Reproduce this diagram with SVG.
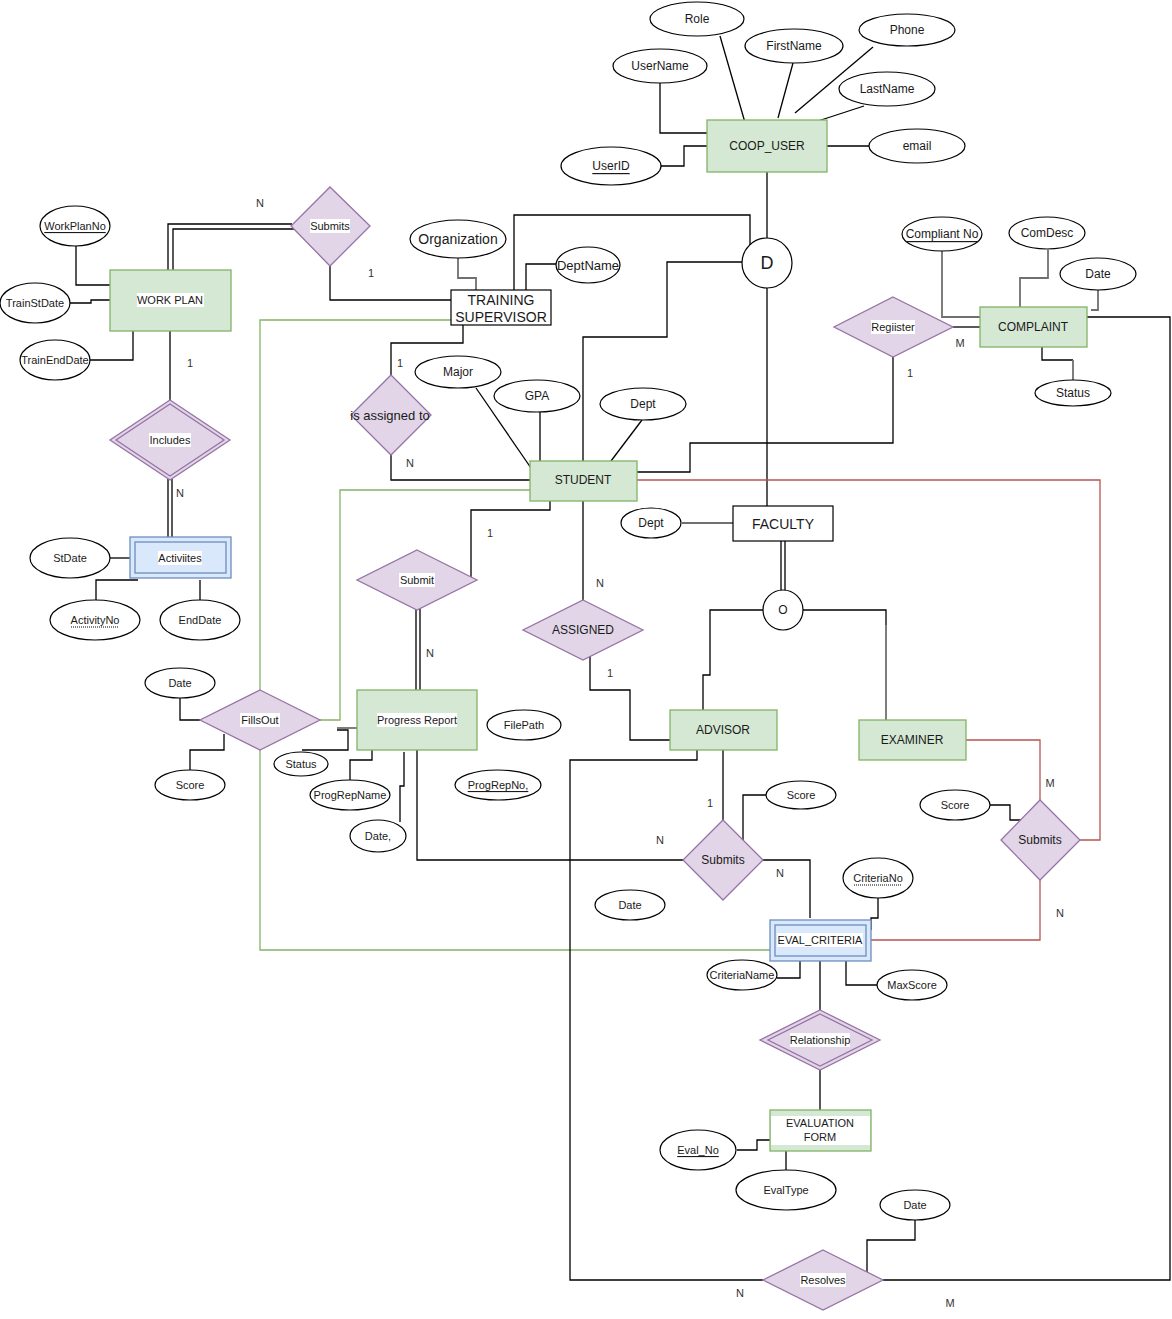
<svg xmlns="http://www.w3.org/2000/svg" width="1172" height="1319" viewBox="0 0 1172 1319">
<style>
text{font-family:"Liberation Sans",Arial,sans-serif;fill:#1a1a1a;text-anchor:middle;dominant-baseline:central}
.ent{fill:#d5e8d4;stroke:#82b366;stroke-width:1.3}
.weak{fill:#dae8fc;stroke:#6c8ebf;stroke-width:1.3}
.rel{fill:#e1d5e7;stroke:#9673a6;stroke-width:1.3}
.attr{fill:#fff;stroke:#000;stroke-width:1.2}
.box{fill:#fff;stroke:#000;stroke-width:1.2}
.bg{fill:#fff}
.c{fill:none;stroke:#000;stroke-width:1.3}
.g{fill:none;stroke:#707070;stroke-width:1.8}
.grn{fill:none;stroke:#82b366;stroke-width:1.3}
.red{fill:none;stroke:#b85450;stroke-width:1.3}
.lbl{font-size:11px;fill:#333}
.s11{font-size:11px}
.s12{font-size:12px}
.s13{font-size:13px}
.s14{font-size:14px}
.u{text-decoration:underline}
.dot{stroke:#000;stroke-width:1;stroke-dasharray:1 1}
</style>
<rect width="1172" height="1319" fill="#fff"/>

<g id="connectors">
  <!-- COOP_USER attributes -->
  <path class="c" d="M720 36 L746 126"/>
  <path class="c" d="M793 63 L778 118"/>
  <path class="c" d="M873 47 L795 113"/>
  <path class="c" d="M864 106 L818 121"/>
  <path class="c" d="M827 146 H870"/>
  <path class="c" d="M660 83 V133 H707"/>
  <path class="c" d="M660 166 H684 V146 H707"/>
  <path class="c" d="M767 172 V238"/>
  <!-- D connections -->
  <path class="c" d="M514 290 V215 H750 V245"/>
  <path class="c" d="M742 262 H667 V337 H583 V461"/>
  <path class="c" d="M767 288 V506"/>
  <path class="c" d="M763 506 V516"/>
  <!-- Training supervisor attributes -->
  <path class="g" d="M458 258 V278 H476 V290"/>
  <path class="c" d="M556 264 H526 V290"/>
  <!-- Submits (top) -->
  <path class="c" d="M168 270 V224 H292"/>
  <path class="c" d="M173 270 V229 H294"/>
  <path class="c" d="M330 266 V300 H451"/>
  <!-- Work plan attrs -->
  <path class="c" d="M76 246 V285 H110"/>
  <path class="c" d="M70 303 H91 V300 H110"/>
  <path class="c" d="M90 360 H133 V331"/>
  <path class="c" d="M170 331 V400"/>
  <path class="c" d="M168 479 V537 M172 479 V537"/>
  <!-- Activities attrs -->
  <path class="c" d="M110 558 H130"/>
  <path class="c" d="M96 600 V580 H138"/>
  <path class="c" d="M200 600 V580"/>
  <!-- is assigned to -->
  <path class="c" d="M463 325 V343 H391 V375"/>
  <path class="c" d="M391 455 V480 H530"/>
  <!-- Student attrs -->
  <path class="c" d="M476 388 L531 468"/>
  <path class="c" d="M540 412 V461"/>
  <path class="c" d="M642 420 L611 461"/>
  <!-- Student - Register -->
  <path class="c" d="M637 472 H690 V443 H893 V357"/>
  <path class="c" d="M953 327 H980"/>
  <!-- Complaint attrs -->
  <path class="g" d="M942 251 V317 H980"/>
  <path class="g" d="M1048 250 V278 H1020 V307"/>
  <path class="g" d="M1098 290 V310 H1091"/>
  <path class="c" d="M1042 347 V360 H1073"/>
  <path class="g" d="M1073 360 V380"/>
  <path class="c" d="M1087 317 H1170 V1280 H883"/>
  <!-- Student - Submit - Progress Report -->
  <path class="c" d="M550 501 V510 H471 V577"/>
  <path class="c" d="M416 609 V690 M420 609 V690"/>
  <path class="c" d="M583 501 V600"/>
  <path class="c" d="M590 656 V690 H630 V740 H670"/>
  <!-- Faculty -->
  <path class="g" d="M682 523 H733"/>
  <path class="c" d="M781 541 V591 M785 541 V591"/>
  <path class="c" d="M763 610 H710 V675 H703 V710"/>
  <path class="c" d="M803 610 H886 V625"/>
  <path class="g" d="M886 625 V720"/>
  <!-- Green connectors -->
  <path class="grn" d="M451 320 H260 V690"/>
  <path class="grn" d="M260 750 V950 H770"/>
  <path class="grn" d="M530 490 H340 V720 H320"/>
  <!-- Red connectors -->
  <path class="red" d="M637 480 H1100 V840 H1080"/>
  <path class="red" d="M966 740 H1040 V800"/>
  <path class="red" d="M1040 880 V940 H871"/>
  <!-- FillsOut attrs -->
  <path class="c" d="M180 698 V720 H200"/>
  <path class="c" d="M190 770 V750 H224 V734"/>
  <!-- Progress report attrs -->
  <path class="g" d="M337 728 H360"/>
  <path class="c" d="M337 730 H348 V750 H302"/>
  <path class="c" d="M350 780 V760 H372 V750"/>
  <path class="c" d="M400 822 V786 H404 V752"/>
  <path class="c" d="M417 750 V860 H684"/>
  <!-- Advisor -->
  <path class="c" d="M697 750 V760 H570 V1280 H763"/>
  <path class="c" d="M723 750 V820"/>
  <path class="c" d="M766 795 H743 V840"/>
  <path class="c" d="M763 860 H810 V918"/>
  <!-- Examiner submits -->
  <path class="c" d="M990 805 H1010 V820 H1021"/>
  <!-- Eval criteria -->
  <path class="c" d="M878 898 V918 H871 V930"/>
  <path class="c" d="M777 978 H800 V961"/>
  <path class="c" d="M846 961 V985 H877"/>
  <path class="c" d="M820 961 V1010"/>
  <path class="c" d="M820 1070 V1110"/>
  <path class="c" d="M737 1150 H757 V1140 H770"/>
  <path class="c" d="M786 1170 V1151"/>
  <path class="c" d="M915 1220 V1240 H867 V1275"/>
  <!-- cardinalities -->
  <text class="lbl" x="260" y="203">N</text>
  <text class="lbl" x="371" y="273">1</text>
  <text class="lbl" x="190" y="363">1</text>
  <text class="lbl" x="180" y="493">N</text>
  <text class="lbl" x="400" y="363">1</text>
  <text class="lbl" x="410" y="463">N</text>
  <text class="lbl" x="490" y="533">1</text>
  <text class="lbl" x="600" y="583">N</text>
  <text class="lbl" x="430" y="653">N</text>
  <text class="lbl" x="610" y="673">1</text>
  <text class="lbl" x="710" y="803">1</text>
  <text class="lbl" x="660" y="840">N</text>
  <text class="lbl" x="780" y="873">N</text>
  <text class="lbl" x="960" y="343">M</text>
  <text class="lbl" x="910" y="373">1</text>
  <text class="lbl" x="1050" y="783">M</text>
  <text class="lbl" x="1060" y="913">N</text>
  <text class="lbl" x="740" y="1293">N</text>
  <text class="lbl" x="950" y="1303">M</text>
</g>

<!-- COOP_USER -->
<g id="coop_user"><rect class="ent" x="707" y="120" width="120" height="52"/><text class="s12" x="767" y="146">COOP_USER</text></g>
<g id="role"><ellipse class="attr" cx="697" cy="19" rx="47" ry="17"/><text class="s12" x="697" y="19">Role</text></g>
<g id="firstname"><ellipse class="attr" cx="794" cy="46" rx="49" ry="17"/><text class="s12" x="794" y="46">FirstName</text></g>
<g id="phone"><ellipse class="attr" cx="907" cy="30" rx="48" ry="16"/><text class="s12" x="907" y="30">Phone</text></g>
<g id="lastname"><ellipse class="attr" cx="887" cy="89" rx="48" ry="17"/><text class="s12" x="887" y="89">LastName</text></g>
<g id="email"><ellipse class="attr" cx="917" cy="146" rx="48" ry="17"/><text class="s12" x="917" y="146">email</text></g>
<g id="username"><ellipse class="attr" cx="660" cy="66" rx="47" ry="17"/><text class="s12" x="660" y="66">UserName</text></g>
<g id="userid"><ellipse class="attr" cx="611" cy="166" rx="50" ry="19"/><text class="s12 u" x="611" y="166">UserID</text></g>

<!-- D -->
<g id="disjoint"><circle class="box" cx="767" cy="263" r="25"/><text x="767" y="263" style="font-size:18px">D</text></g>

<!-- Training supervisor -->
<g id="training_supervisor"><rect class="box" x="451" y="290" width="100" height="35"/><text class="s14" x="501" y="300">TRAINING</text><text class="s14" x="501" y="317">SUPERVISOR</text></g>
<g id="organization"><ellipse class="attr" cx="458" cy="239" rx="48" ry="19"/><text class="s14" x="458" y="239">Organization</text></g>
<g id="deptname"><ellipse class="attr" cx="588" cy="265" rx="32" ry="18"/><text class="s13" x="588" y="265">DeptName</text></g>

<!-- Submits top -->
<g id="submits_wp"><polygon class="rel" points="330,187 370,226 330,266 291,226"/><rect class="bg" x="310" y="219" width="40" height="14"/><text class="s11" x="330" y="226">Submits</text></g>

<!-- Work plan -->
<g id="work_plan"><rect class="ent" x="110" y="270" width="121" height="61"/><rect class="bg" x="137" y="293" width="67" height="14"/><text class="s11" x="170" y="300">WORK PLAN</text></g>
<g id="workplanno"><ellipse class="attr" cx="75" cy="226" rx="35" ry="20"/><text class="s11 u" x="75" y="226">WorkPlanNo</text></g>
<g id="trainstdate"><ellipse class="attr" cx="35" cy="303" rx="35" ry="20"/><text class="s11" x="35" y="303">TrainStDate</text></g>
<g id="trainenddate"><ellipse class="attr" cx="55" cy="360" rx="35" ry="20"/><text class="s11" x="55" y="360">TrainEndDate</text></g>

<!-- Includes -->
<g id="includes"><polygon class="rel" points="170,400 230,440 170,480 110,440"/><polygon class="rel" points="170,404 224,440 170,476 116,440"/><rect class="bg" x="149" y="433" width="42" height="14"/><text class="s11" x="170" y="440">Includes</text></g>

<!-- Activities -->
<g id="activities"><rect class="weak" x="130" y="537" width="101" height="41"/><rect class="weak" x="135" y="542" width="91" height="31"/><rect class="bg" x="158" y="551" width="44" height="14"/><text class="s11" x="180" y="558">Activiites</text></g>
<g id="stdate"><ellipse class="attr" cx="70" cy="558" rx="40" ry="20"/><text class="s11" x="70" y="558">StDate</text></g>
<g id="activityno"><ellipse class="attr" cx="95" cy="620" rx="45" ry="20"/><text class="s11" x="95" y="620">ActivityNo</text><line class="dot" x1="71" y1="627" x2="119" y2="627"/></g>
<g id="enddate"><ellipse class="attr" cx="200" cy="620" rx="40" ry="20"/><text class="s11" x="200" y="620">EndDate</text></g>

<!-- is assigned to -->
<g id="is_assigned_to"><polygon class="rel" points="391,375 431,415 391,455 351,415"/><text class="s13" x="390" y="415">is assigned to</text></g>

<!-- Student -->
<g id="student"><rect class="ent" x="530" y="461" width="107" height="40"/><text class="s12" x="583" y="480">STUDENT</text></g>
<g id="major"><ellipse class="attr" cx="458" cy="372" rx="43" ry="16"/><text class="s12" x="458" y="372">Major</text></g>
<g id="gpa"><ellipse class="attr" cx="537" cy="396" rx="43" ry="16"/><text class="s12" x="537" y="396">GPA</text></g>
<g id="student_dept"><ellipse class="attr" cx="643" cy="404" rx="43" ry="16"/><text class="s12" x="643" y="404">Dept</text></g>

<!-- Register -->
<g id="register"><polygon class="rel" points="893,297 953,327 893,357 834,327"/><rect class="bg" x="871" y="320" width="44" height="14"/><text class="s11" x="893" y="327">Regiister</text></g>

<!-- Complaint -->
<g id="complaint"><rect class="ent" x="980" y="307" width="107" height="40"/><text class="s12" x="1033" y="327">COMPLAINT</text></g>
<g id="compliant_no"><ellipse class="attr" cx="942" cy="234" rx="40" ry="17"/><text class="s12 u" x="942" y="234">Compliant No</text></g>
<g id="comdesc"><ellipse class="attr" cx="1047" cy="233" rx="38" ry="16"/><text class="s12" x="1047" y="233">ComDesc</text></g>
<g id="complaint_date"><ellipse class="attr" cx="1098" cy="274" rx="38" ry="16"/><text class="s12" x="1098" y="274">Date</text></g>
<g id="complaint_status"><ellipse class="attr" cx="1073" cy="393" rx="38" ry="13"/><text class="s12" x="1073" y="393">Status</text></g>

<!-- Faculty -->
<g id="faculty"><rect class="box" x="733" y="506" width="100" height="35"/><text class="s14" x="783" y="524">FACULTY</text></g>
<g id="faculty_dept"><ellipse class="attr" cx="651" cy="523" rx="30" ry="15"/><text class="s12" x="651" y="523">Dept</text></g>
<g id="overlap"><circle class="box" cx="783" cy="610" r="20"/><text class="s12" x="783" y="610">O</text></g>

<!-- Submit (student) -->
<g id="submit_pr"><polygon class="rel" points="417,550 477,580 417,610 357,580"/><rect class="bg" x="399" y="573" width="36" height="14"/><text class="s11" x="417" y="580">Submit</text></g>

<!-- Assigned -->
<g id="assigned"><polygon class="rel" points="583,600 643,630 583,660 523,630"/><text class="s12" x="583" y="630">ASSIGNED</text></g>

<!-- FillsOut -->
<g id="fillsout"><polygon class="rel" points="260,690 320,720 260,750 200,720"/><rect class="bg" x="240" y="713" width="40" height="14"/><text class="s11" x="260" y="720">FillsOut</text></g>
<g id="fillsout_date"><ellipse class="attr" cx="180" cy="683" rx="35" ry="15"/><text class="s11" x="180" y="683">Date</text></g>
<g id="fillsout_score"><ellipse class="attr" cx="190" cy="785" rx="35" ry="15"/><text class="s11" x="190" y="785">Score</text></g>

<!-- Progress Report -->
<g id="progress_report"><rect class="ent" x="357" y="690" width="120" height="60"/><rect class="bg" x="377" y="713" width="80" height="14"/><text class="s11" x="417" y="720">Progress Report</text></g>
<g id="filepath"><ellipse class="attr" cx="524" cy="725" rx="37" ry="15"/><text class="s11" x="524" y="725">FilePath</text></g>
<g id="progrepno"><ellipse class="attr" cx="498" cy="785" rx="43" ry="15"/><text class="s11 u" x="498" y="785">ProgRepNo,</text></g>
<g id="pr_status"><ellipse class="attr" cx="301" cy="764" rx="27" ry="12"/><text class="s11" x="301" y="764">Status</text></g>
<g id="progrepname"><ellipse class="attr" cx="350" cy="795" rx="40" ry="15"/><text class="s11" x="350" y="795">ProgRepName</text></g>
<g id="pr_date"><ellipse class="attr" cx="378" cy="836" rx="28" ry="16"/><text class="s11" x="378" y="836">Date,</text></g>

<!-- Advisor -->
<g id="advisor"><rect class="ent" x="670" y="710" width="107" height="40"/><text class="s12" x="723" y="730">ADVISOR</text></g>
<g id="submits_adv"><polygon class="rel" points="723,820 763,860 723,900 683,860"/><text class="s12" x="723" y="860">Submits</text></g>
<g id="adv_score"><ellipse class="attr" cx="801" cy="795" rx="35" ry="14"/><text class="s11" x="801" y="795">Score</text></g>
<g id="adv_date"><ellipse class="attr" cx="630" cy="905" rx="35" ry="15"/><text class="s11" x="630" y="905">Date</text></g>

<!-- Examiner -->
<g id="examiner"><rect class="ent" x="859" y="720" width="107" height="40"/><text class="s12" x="912" y="740">EXAMINER</text></g>
<g id="submits_exam"><polygon class="rel" points="1040,800 1080,840 1040,880 1001,840"/><text class="s12" x="1040" y="840">Submits</text></g>
<g id="exam_score"><ellipse class="attr" cx="955" cy="805" rx="35" ry="15"/><text class="s11" x="955" y="805">Score</text></g>

<!-- Eval criteria -->
<g id="eval_criteria"><rect class="weak" x="770" y="920" width="101" height="41"/><rect class="weak" x="775" y="925" width="91" height="31"/><rect class="bg" x="777" y="933" width="86" height="14"/><text class="s11" x="820" y="940">EVAL_CRITERIA</text></g>
<g id="criteriano"><ellipse class="attr" cx="878" cy="878" rx="35" ry="20"/><text class="s11" x="878" y="878">CriteriaNo</text><line class="dot" x1="854" y1="885" x2="902" y2="885"/></g>
<g id="criterianame"><ellipse class="attr" cx="742" cy="975" rx="35" ry="15"/><text class="s11" x="742" y="975">CriteriaName</text></g>
<g id="maxscore"><ellipse class="attr" cx="912" cy="985" rx="35" ry="15"/><text class="s11" x="912" y="985">MaxScore</text></g>

<!-- Relationship -->
<g id="relationship"><polygon class="rel" points="820,1010 880,1040 820,1070 760,1040"/><polygon class="rel" points="820,1014 872,1040 820,1066 768,1040"/><rect class="bg" x="790" y="1033" width="60" height="14"/><text class="s11" x="820" y="1040">Relationship</text></g>

<!-- Evaluation form -->
<g id="evaluation_form"><rect class="ent" x="770" y="1110" width="101" height="41"/><rect class="bg" x="771" y="1116" width="99" height="29"/><text class="s11" x="820" y="1123">EVALUATION</text><text class="s11" x="820" y="1137">FORM</text></g>
<g id="eval_no"><ellipse class="attr" cx="698" cy="1150" rx="38" ry="20"/><text class="s11 u" x="698" y="1150">Eval_No</text></g>
<g id="evaltype"><ellipse class="attr" cx="786" cy="1190" rx="50" ry="20"/><text class="s11" x="786" y="1190">EvalType</text></g>

<!-- Resolves -->
<g id="resolves"><polygon class="rel" points="823,1250 883,1280 823,1310 763,1280"/><rect class="bg" x="800" y="1273" width="46" height="14"/><text class="s11" x="823" y="1280">Resolves</text></g>
<g id="resolves_date"><ellipse class="attr" cx="915" cy="1205" rx="35" ry="15"/><text class="s11" x="915" y="1205">Date</text></g>
</svg>
